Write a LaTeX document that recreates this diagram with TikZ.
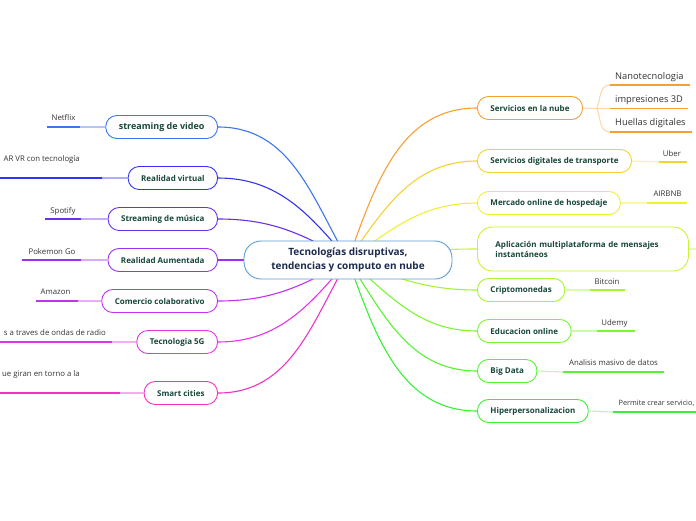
\documentclass[tikz,border=0pt]{standalone}
\usepackage{fontspec}
\setmainfont{Open Sans}
\usetikzlibrary{backgrounds}

\definecolor{rootblue}{HTML}{5B9BD5}
\definecolor{rootnavy}{HTML}{1B2A4E}
\definecolor{topicgreen}{HTML}{17463A}
\definecolor{leafgray}{HTML}{333333}
\definecolor{cvideo}{HTML}{3D74F2}
\definecolor{crv}{HTML}{3333F0}
\definecolor{cmus}{HTML}{6A30F0}
\definecolor{caum}{HTML}{9A30F0}
\definecolor{ccom}{HTML}{C232F0}
\definecolor{cfive}{HTML}{E633E3}
\definecolor{csmart}{HTML}{F033C4}
\definecolor{cnube}{HTML}{F5A033}
\definecolor{ctrans}{HTML}{F5D233}
\definecolor{cmerc}{HTML}{F0F033}
\definecolor{capp}{HTML}{C8F533}
\definecolor{ccrip}{HTML}{A5F533}
\definecolor{cedu}{HTML}{7CF533}
\definecolor{cbig}{HTML}{58F233}
\definecolor{chiper}{HTML}{38F038}

\tikzset{
  root/.style={draw=rootblue, fill=white, line width=0.9pt, rounded corners=17pt,
    minimum width=208pt, minimum height=38pt, align=center, text=rootnavy,
    font=\bfseries\fontsize{10}{14}\selectfont},
  topic/.style={draw=#1, fill=white, line width=0.9pt, rounded corners=11pt,
    minimum height=23pt, inner xsep=13pt, text=topicgreen,
    font=\bfseries\fontsize{8}{10}\selectfont},
  branch/.style={draw=#1, line width=1.1pt},
  link/.style={draw=#1!40, line width=1.1pt},
  under/.style={draw=#1, line width=1.4pt},
  leaf/.style={inner sep=1pt, text=leafgray, font=\fontsize{7.8}{9}\selectfont},
  bigleaf/.style={leaf, font=\fontsize{9.3}{11}\selectfont},
}

\begin{document}
\begin{tikzpicture}[x=1pt,y=1pt]
    \useasboundingbox (0,0) rectangle (696,-520);

    % centre
    \node[root] (root) at (348,-260) {Tecnologías disruptivas,\\tendencias y computo en nube};

    % left topics
    \node[topic=cvideo, anchor=east, font=\bfseries\fontsize{9}{11}\selectfont] (video) at (218,-127) {streaming de video};
    \node[topic=crv, anchor=east] (virtual) at (218,-178) {Realidad virtual};
    \node[topic=cmus, anchor=east] (musica) at (218,-219) {Streaming de música};
    \node[topic=caum, anchor=east] (aumentada) at (218,-260) {Realidad Aumentada};
    \node[topic=ccom, anchor=east] (comercio) at (218,-301) {Comercio colaborativo};
    \node[topic=cfive, anchor=east] (fiveg) at (218,-342) {Tecnologia 5G};
    \node[topic=csmart, anchor=east] (smart) at (218,-393) {Smart cities};

    % right topics
    \node[topic=cnube, anchor=west] (nube) at (477,-108) {Servicios en la nube};
    \node[topic=ctrans, anchor=west] (transporte) at (477,-161) {Servicios digitales de transporte};
    \node[topic=cmerc, anchor=west] (hospedaje) at (477,-203) {Mercado online de hospedaje};
    \node[topic=capp, anchor=west, rounded corners=15pt, minimum height=44pt, inner xsep=18pt,
      text width=175pt, align=left] (mensajes) at (477,-249) {Aplicación multiplataforma de mensajes\\instantáneos};
    \node[topic=ccrip, anchor=west] (cripto) at (477,-290) {Criptomonedas};
    \node[topic=cedu, anchor=west] (educacion) at (477,-331) {Educacion online};
    \node[topic=cbig, anchor=west] (bigdata) at (477,-371) {Big Data};
    \node[topic=chiper, anchor=west] (hiper) at (477,-411) {Hiperpersonalizacion};

    \begin{scope}[on background layer]
    \draw[branch=cvideo] (root.center) to[out=120, in=0] (video.east);
    \draw[branch=crv] (root.center) to[out=130, in=0] (virtual.east);
    \draw[branch=cmus] (root.center) to[out=150, in=0] (musica.east);
    \draw[branch=caum] (root.center) -- (aumentada.east);
    \draw[branch=ccom] (root.center) to[out=210, in=0] (comercio.east);
    \draw[branch=cfive] (root.center) to[out=230, in=0] (fiveg.east);
    \draw[branch=csmart] (root.center) to[out=240, in=0] (smart.east);
    \draw[branch=cnube] (root.center) to[out=70, in=180] (nube.west);
    \draw[branch=ctrans] (root.center) to[out=55, in=180] (transporte.west);
    \draw[branch=cmerc] (root.center) to[out=35, in=180] (hospedaje.west);
    \draw[branch=capp] (root.center) to[out=8, in=180] (mensajes.west);
    \draw[branch=ccrip] (root.center) to[out=-20, in=180] (cripto.west);
    \draw[branch=cedu] (root.center) to[out=-40, in=180] (educacion.west);
    \draw[branch=cbig] (root.center) to[out=-57, in=180] (bigdata.west);
    \draw[branch=chiper] (root.center) to[out=-70, in=180] (hiper.west);
    \end{scope}

    % left leaves
    \node[leaf] (netflix) at (63.5,-118) {Netflix};
    \coordinate (netflixA) at (80,-127);
    \coordinate (netflixB) at (47,-127);
    \draw[link=cvideo] (video.west) -- (netflixA);
    \draw[under=cvideo] (netflixA) -- (netflixB);

    \node[leaf, anchor=east] (arvr) at (81,-159) {AR VR con tecnología};
    \coordinate (arvrA) at (102,-178);
    \coordinate (arvrB) at (0,-178);
    \draw[link=crv] (virtual.west) -- (arvrA);
    \draw[under=crv] (arvrA) -- (arvrB);

    \node[leaf] (spotify) at (63,-211) {Spotify};
    \coordinate (spotifyA) at (81,-219);
    \coordinate (spotifyB) at (45,-219);
    \draw[link=cmus] (musica.west) -- (spotifyA);
    \draw[under=cmus] (spotifyA) -- (spotifyB);

    \node[leaf] (pokemon) at (52,-252) {Pokemon Go};
    \coordinate (pokemonA) at (81,-260);
    \coordinate (pokemonB) at (22,-260);
    \draw[link=caum] (aumentada.west) -- (pokemonA);
    \draw[under=caum] (pokemonA) -- (pokemonB);

    \node[leaf] (amazon) at (55.5,-292) {Amazon};
    \coordinate (amazonA) at (78,-301);
    \coordinate (amazonB) at (36,-301);
    \draw[link=ccom] (comercio.west) -- (amazonA);
    \draw[under=ccom] (amazonA) -- (amazonB);

    \node[leaf, anchor=east] (radio) at (107,-333) {s a traves de ondas de radio};
    \coordinate (radioA) at (112,-342);
    \coordinate (radioB) at (0,-342);
    \draw[link=cfive] (fiveg.west) -- (radioA);
    \draw[under=cfive] (radioA) -- (radioB);

    \node[leaf, anchor=east] (giran) at (81,-374) {ue giran en torno a la};
    \coordinate (giranA) at (120,-393);
    \coordinate (giranB) at (0,-393);
    \draw[link=csmart] (smart.west) -- (giranA);
    \draw[under=csmart] (giranA) -- (giranB);

    % right leaves
    \coordinate (fork) at (597,-108.5);
    \draw[link=cnube] (nube.east) -- (fork);
    \node[bigleaf, anchor=west] (nano) at (614,-77) {Nanotecnologia};
    \coordinate (nanoA) at (610,-85);
    \coordinate (nanoB) at (690,-85);
    \draw[link=cnube] (fork) to[out=70, in=180] (nanoA);
    \draw[under=cnube] (nanoA) -- (nanoB);
    \node[bigleaf, anchor=west] (impresiones) at (614,-100) {impresiones 3D};
    \coordinate (impresionesA) at (610,-108.5);
    \coordinate (impresionesB) at (688,-108.5);
    \draw[link=cnube] (fork) -- (impresionesA);
    \draw[under=cnube] (impresionesA) -- (impresionesB);
    \node[bigleaf, anchor=west] (huellas) at (614,-123) {Huellas digitales};
    \coordinate (huellasA) at (610,-132);
    \coordinate (huellasB) at (692,-132);
    \draw[link=cnube] (fork) to[out=-70, in=180] (huellasA);
    \draw[under=cnube] (huellasA) -- (huellasB);

    \node[leaf] (uber) at (672,-154) {Uber};
    \coordinate (uberA) at (659,-162);
    \coordinate (uberB) at (687,-162);
    \draw[link=ctrans] (transporte.east) -- (uberA);
    \draw[under=ctrans] (uberA) -- (uberB);

    \node[leaf] (airbnb) at (667.5,-194) {AIRBNB};
    \coordinate (airbnbA) at (647,-203);
    \coordinate (airbnbB) at (687,-203);
    \draw[link=cmerc] (hospedaje.east) -- (airbnbA);
    \draw[under=cmerc] (airbnbA) -- (airbnbB);

    \coordinate (mensajesA) at (700,-249);
    \draw[link=capp] (mensajes.east) -- (mensajesA);

    \node[leaf] (bitcoin) at (607,-282) {Bitcoin};
    \coordinate (bitcoinA) at (590,-290);
    \coordinate (bitcoinB) at (625,-290);
    \draw[link=ccrip] (cripto.east) -- (bitcoinA);
    \draw[under=ccrip] (bitcoinA) -- (bitcoinB);

    \node[leaf] (udemy) at (614.5,-323) {Udemy};
    \coordinate (udemyA) at (597,-331);
    \coordinate (udemyB) at (635,-331);
    \draw[link=cedu] (educacion.east) -- (udemyA);
    \draw[under=cedu] (udemyA) -- (udemyB);

    \node[leaf] (analisis) at (613.5,-363) {Analisis masivo de datos};
    \coordinate (analisisA) at (563,-372);
    \coordinate (analisisB) at (664,-372);
    \draw[link=cbig] (bigdata.east) -- (analisisA);
    \draw[under=cbig] (analisisA) -- (analisisB);

    \node[leaf, anchor=east, font=\fontsize{7.3}{9}\selectfont] (permite) at (695.5,-403) {Permite crear servicio,};
    \coordinate (permiteA) at (613,-412);
    \coordinate (permiteB) at (700,-412);
    \draw[link=chiper] (hiper.east) -- (permiteA);
    \draw[under=chiper] (permiteA) -- (permiteB);
\end{tikzpicture}
\end{document}
